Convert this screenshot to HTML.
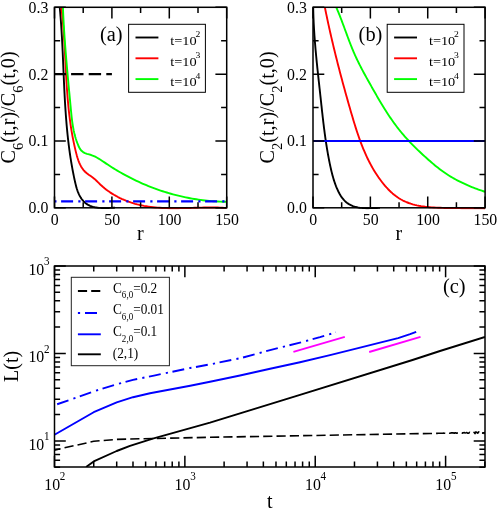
<!DOCTYPE html>
<html><head><meta charset="utf-8"><title>figure</title><style>html,body{margin:0;padding:0;background:#fff;}svg{display:block;}text{font-family:'Liberation Serif', serif;fill:#000;}</style></head><body>
<svg width="498" height="510" viewBox="0 0 498 510">
<rect x="0" y="0" width="498" height="510" fill="#fff"/>
<defs>
<clipPath id="ca"><rect x="54.5" y="7.3" width="172.2" height="202.1"/></clipPath>
<clipPath id="cb"><rect x="313" y="7.3" width="172.1" height="202.1"/></clipPath>
<clipPath id="cc"><rect x="54.5" y="266" width="430.5" height="201"/></clipPath>
<filter id="g" x="0" y="0" width="498" height="510" filterUnits="userSpaceOnUse" color-interpolation-filters="sRGB"><feColorMatrix type="saturate" values="0"/></filter>
</defs>
<g clip-path="url(#ca)">
<path d="M59.74,7.26 L59.89,8.92 L60.04,10.58 L60.19,12.25 L60.33,13.91 L60.46,15.57 L60.6,17.23 L60.73,18.89 L60.85,20.55 L60.97,22.21 L61.09,23.87 L61.2,25.53 L61.31,27.19 L61.42,28.85 L61.53,30.5 L61.63,32.16 L61.73,33.82 L61.82,35.48 L61.92,37.13 L62.01,38.79 L62.1,40.44 L62.18,42.1 L62.27,43.75 L62.35,45.41 L62.43,47.06 L62.51,48.72 L62.59,50.37 L62.67,52.03 L62.75,53.68 L62.82,55.33 L62.89,56.98 L62.97,58.64 L63.04,60.29 L63.11,61.94 L63.18,63.59 L63.25,65.24 L63.32,66.89 L63.39,68.55 L63.46,70.2 L63.53,71.85 L63.6,73.5 L63.67,75.15 L63.75,76.8 L63.82,78.45 L63.89,80.1 L63.96,81.75 L64.04,83.39 L64.11,85.04 L64.19,86.69 L64.27,88.34 L64.35,89.99 L64.43,91.64 L64.52,93.29 L64.6,94.93 L64.69,96.58 L64.78,98.23 L64.87,99.88 L64.96,101.53 L65.06,103.17 L65.16,104.82 L65.26,106.47 L65.37,108.12 L65.47,109.76 L65.59,111.41 L65.7,113.06 L65.82,114.7 L65.94,116.35 L66.06,118 L66.19,119.65 L66.33,121.29 L66.46,122.94 L66.6,124.59 L66.75,126.23 L66.9,127.88 L67.05,129.53 L67.21,131.17 L67.38,132.82 L67.54,134.47 L67.72,136.12 L67.9,137.76 L68.08,139.41 L68.27,141.06 L68.47,142.7 L68.67,144.35 L68.87,146 L69.08,147.65 L69.3,149.29 L69.53,150.94 L69.76,152.59 L70,154.24 L70.24,155.89 L70.49,157.53 L70.75,159.18 L71.01,160.83 L71.28,162.48 L71.56,164.13 L71.85,165.78 L72.14,167.43 L72.44,169.07 L72.75,170.72 L73.07,172.37 L73.39,174.02 L73.72,175.67 L74.06,177.32 L74.41,178.97 L74.77,180.62 L75.14,182.27 L75.52,183.91 L75.93,185.55 L76.37,187.16 L76.84,188.76 L77.35,190.33 L77.92,191.87 L78.53,193.38 L79.21,194.84 L79.95,196.26 L80.76,197.64 L81.66,198.96 L82.63,200.21 L83.68,201.39 L84.81,202.49 L86.02,203.5 L87.31,204.4 L88.69,205.2 L90.14,205.87 L91.66,206.44 L93.25,206.9 L94.89,207.27 L96.57,207.56 L98.29,207.77 L100.02,207.92 L101.77,208 L103.52,208.04 L105.26,208.03 L106.99,207.99 L108.69,207.93 L110.36,207.85 L111.97,207.76 L113.54,207.68 L115.03,207.61" fill="none" stroke="#000" stroke-width="1.9" stroke-linejoin="round"/>
<path d="M61.34,7.31 L61.61,9.59 L61.87,11.87 L62.12,14.15 L62.35,16.43 L62.57,18.72 L62.78,21.01 L62.98,23.29 L63.18,25.58 L63.36,27.88 L63.53,30.17 L63.7,32.46 L63.86,34.76 L64.01,37.05 L64.16,39.35 L64.3,41.64 L64.44,43.94 L64.57,46.24 L64.7,48.54 L64.83,50.84 L64.95,53.14 L65.07,55.44 L65.19,57.74 L65.31,60.04 L65.43,62.34 L65.55,64.64 L65.67,66.94 L65.79,69.25 L65.91,71.55 L66.03,73.85 L66.16,76.15 L66.29,78.45 L66.43,80.75 L66.57,83.05 L66.71,85.34 L66.86,87.64 L67.02,89.94 L67.19,92.23 L67.36,94.53 L67.54,96.82 L67.73,99.12 L67.93,101.41 L68.13,103.7 L68.35,105.99 L68.58,108.27 L68.82,110.56 L69.07,112.85 L69.34,115.13 L69.62,117.41 L69.91,119.69 L70.21,121.97 L70.54,124.24 L70.87,126.52 L71.22,128.79 L71.59,131.06 L71.98,133.33 L72.38,135.59 L72.81,137.86 L73.25,140.12 L73.71,142.37 L74.19,144.63 L74.69,146.88 L75.21,149.13 L75.75,151.38 L76.32,153.62 L76.91,155.86 L77.56,158.07 L78.28,160.24 L79.09,162.36 L80,164.42 L81.03,166.41 L82.22,168.3 L83.56,170.09 L85.08,171.76 L86.81,173.3 L88.72,174.71 L90.71,176.07 L92.69,177.45 L94.53,178.92 L96.23,180.47 L97.86,182.08 L99.46,183.69 L101.11,185.26 L102.81,186.77 L104.55,188.24 L106.35,189.65 L108.19,191.02 L110.08,192.33 L112.01,193.58 L113.97,194.79 L115.97,195.94 L118,197.03 L120.06,198.07 L122.15,199.06 L124.26,199.99 L126.4,200.87 L128.55,201.69 L130.72,202.45 L132.91,203.16 L135.11,203.81 L137.32,204.41 L139.54,204.95 L141.77,205.44 L144,205.89 L146.25,206.28 L148.51,206.64 L150.77,206.95 L153.04,207.22 L155.32,207.45 L157.61,207.65 L159.9,207.82 L162.19,207.95 L164.49,208.06 L166.8,208.14 L169.11,208.19 L171.42,208.22 L173.74,208.24 L176.06,208.23 L178.38,208.21 L180.7,208.17 L183.02,208.13 L185.34,208.07 L187.67,208.01 L189.99,207.94 L192.31,207.87 L194.63,207.8 L196.95,207.74 L199.27,207.67 L201.58,207.62 L203.89,207.57 L206.19,207.53 L208.49,207.5 L210.79,207.49 L213.08,207.5 L215.37,207.53 L217.64,207.57 L219.92,207.65 L222.18,207.74 L224.44,207.87 L226.68,208.03" fill="none" stroke="#f00" stroke-width="1.9" stroke-linejoin="round"/>
<path d="M62.92,7.3 L63.01,9.48 L63.1,11.66 L63.2,13.83 L63.3,16.01 L63.41,18.19 L63.53,20.36 L63.65,22.53 L63.77,24.71 L63.9,26.88 L64.03,29.05 L64.17,31.21 L64.31,33.38 L64.45,35.55 L64.6,37.71 L64.75,39.88 L64.91,42.04 L65.07,44.21 L65.23,46.37 L65.4,48.53 L65.57,50.7 L65.74,52.86 L65.92,55.02 L66.09,57.18 L66.27,59.34 L66.46,61.5 L66.64,63.66 L66.83,65.82 L67.02,67.98 L67.21,70.14 L67.4,72.3 L67.6,74.46 L67.79,76.62 L67.99,78.79 L68.19,80.95 L68.39,83.11 L68.59,85.27 L68.8,87.43 L69,89.59 L69.21,91.75 L69.41,93.92 L69.62,96.08 L69.82,98.25 L70.03,100.41 L70.23,102.58 L70.44,104.74 L70.65,106.91 L70.85,109.08 L71.06,111.25 L71.27,113.42 L71.5,115.58 L71.74,117.75 L72,119.91 L72.28,122.07 L72.59,124.22 L72.93,126.36 L73.31,128.5 L73.73,130.63 L74.2,132.76 L74.72,134.87 L75.29,136.97 L75.91,139.06 L76.61,141.14 L77.37,143.2 L78.2,145.25 L79.11,147.27 L80.19,149.16 L81.49,150.8 L83.09,152.11 L84.93,153.09 L86.97,153.81 L89.1,154.39 L91.21,155.03 L93.25,155.81 L95.22,156.71 L97.13,157.72 L99,158.81 L100.84,159.97 L102.65,161.17 L104.45,162.39 L106.25,163.61 L108.06,164.82 L109.89,166.01 L111.72,167.19 L113.56,168.35 L115.42,169.48 L117.28,170.61 L119.15,171.71 L121.04,172.8 L122.93,173.86 L124.84,174.91 L126.75,175.94 L128.67,176.95 L130.6,177.95 L132.54,178.92 L134.49,179.88 L136.45,180.82 L138.42,181.73 L140.39,182.63 L142.37,183.51 L144.36,184.37 L146.36,185.22 L148.37,186.04 L150.39,186.84 L152.41,187.62 L154.44,188.38 L156.48,189.13 L158.52,189.85 L160.57,190.55 L162.63,191.23 L164.69,191.89 L166.76,192.53 L168.84,193.16 L170.92,193.76 L173.01,194.33 L175.11,194.89 L177.21,195.43 L179.32,195.95 L181.43,196.44 L183.55,196.91 L185.67,197.37 L187.8,197.8 L189.93,198.21 L192.07,198.59 L194.21,198.96 L196.35,199.3 L198.5,199.62 L200.66,199.92 L202.82,200.2 L204.98,200.45 L207.14,200.69 L209.31,200.9 L211.48,201.08 L213.66,201.25 L215.84,201.39 L218.02,201.51 L220.2,201.6 L222.39,201.68 L224.58,201.72 L226.77,201.75" fill="none" stroke="#0f0" stroke-width="1.9" stroke-linejoin="round"/>
<path d="M53.5,74.13 H111.9" fill="none" stroke="#000" stroke-width="2.1" stroke-linejoin="round" stroke-dasharray="12.4 5.2"/>
<path d="M54.3,201.4 H226.7" fill="none" stroke="#00f" stroke-width="2.2" stroke-linejoin="round" stroke-dasharray="2.2 4.6 12 5.2"/>
</g>
<g clip-path="url(#cb)">
<path d="M313.19,7.31 L313.22,8.99 L313.25,10.68 L313.3,12.37 L313.34,14.06 L313.4,15.74 L313.46,17.43 L313.52,19.12 L313.6,20.81 L313.67,22.49 L313.76,24.18 L313.85,25.87 L313.94,27.56 L314.04,29.25 L314.14,30.93 L314.25,32.62 L314.36,34.31 L314.48,36 L314.6,37.68 L314.73,39.37 L314.86,41.06 L314.99,42.75 L315.13,44.43 L315.27,46.12 L315.41,47.81 L315.56,49.5 L315.71,51.18 L315.87,52.87 L316.03,54.56 L316.19,56.24 L316.35,57.93 L316.51,59.62 L316.68,61.3 L316.85,62.99 L317.02,64.67 L317.2,66.36 L317.37,68.05 L317.55,69.73 L317.73,71.42 L317.91,73.1 L318.09,74.78 L318.27,76.47 L318.45,78.15 L318.64,79.84 L318.82,81.52 L319.01,83.2 L319.19,84.89 L319.38,86.57 L319.56,88.25 L319.75,89.93 L319.93,91.62 L320.12,93.3 L320.3,94.98 L320.48,96.66 L320.67,98.34 L320.85,100.02 L321.03,101.7 L321.21,103.38 L321.39,105.06 L321.58,106.73 L321.76,108.41 L321.94,110.09 L322.13,111.77 L322.32,113.44 L322.51,115.12 L322.7,116.8 L322.89,118.47 L323.08,120.15 L323.28,121.82 L323.48,123.5 L323.69,125.17 L323.89,126.85 L324.1,128.52 L324.32,130.19 L324.54,131.87 L324.76,133.54 L324.99,135.21 L325.22,136.88 L325.45,138.55 L325.7,140.22 L325.94,141.89 L326.2,143.56 L326.46,145.23 L326.72,146.9 L326.99,148.57 L327.27,150.24 L327.56,151.91 L327.85,153.58 L328.15,155.24 L328.46,156.91 L328.77,158.58 L329.09,160.24 L329.42,161.91 L329.76,163.57 L330.11,165.24 L330.47,166.9 L330.84,168.56 L331.22,170.22 L331.62,171.88 L332.04,173.53 L332.47,175.18 L332.93,176.83 L333.4,178.47 L333.9,180.1 L334.43,181.73 L334.99,183.35 L335.57,184.96 L336.18,186.56 L336.83,188.15 L337.52,189.73 L338.24,191.29 L339.01,192.81 L339.82,194.3 L340.69,195.75 L341.61,197.14 L342.6,198.47 L343.64,199.72 L344.75,200.9 L345.94,202 L347.2,202.99 L348.53,203.9 L349.93,204.71 L351.39,205.43 L352.91,206.06 L354.48,206.6 L356.1,207.05 L357.76,207.42 L359.46,207.71 L361.19,207.92 L362.95,208.06 L364.72,208.15 L366.5,208.19 L368.27,208.19 L370.04,208.16 L371.8,208.11 L373.52,208.06 L375.22,207.99 L376.88,207.94 L378.49,207.9 L380.04,207.88" fill="none" stroke="#000" stroke-width="1.9" stroke-linejoin="round"/>
<path d="M324.85,7.23 L325.28,9.35 L325.71,11.46 L326.14,13.57 L326.58,15.68 L327.02,17.78 L327.47,19.89 L327.92,21.98 L328.37,24.08 L328.83,26.17 L329.29,28.26 L329.76,30.34 L330.23,32.43 L330.7,34.51 L331.18,36.59 L331.66,38.66 L332.14,40.74 L332.63,42.81 L333.12,44.88 L333.61,46.95 L334.11,49.01 L334.61,51.08 L335.12,53.14 L335.63,55.2 L336.14,57.26 L336.66,59.32 L337.18,61.38 L337.7,63.43 L338.22,65.49 L338.75,67.54 L339.29,69.6 L339.82,71.65 L340.36,73.7 L340.9,75.75 L341.45,77.8 L342,79.85 L342.55,81.9 L343.11,83.96 L343.66,86.01 L344.23,88.06 L344.79,90.11 L345.36,92.16 L345.93,94.21 L346.5,96.26 L347.08,98.32 L347.66,100.37 L348.24,102.42 L348.82,104.48 L349.41,106.53 L350,108.59 L350.6,110.65 L351.19,112.71 L351.79,114.77 L352.4,116.83 L353.01,118.89 L353.63,120.95 L354.25,123 L354.89,125.06 L355.53,127.11 L356.18,129.15 L356.85,131.2 L357.53,133.23 L358.22,135.26 L358.92,137.29 L359.64,139.31 L360.37,141.32 L361.12,143.32 L361.89,145.32 L362.68,147.3 L363.49,149.28 L364.31,151.24 L365.16,153.2 L366.03,155.14 L366.92,157.07 L367.84,158.99 L368.78,160.89 L369.74,162.78 L370.74,164.66 L371.76,166.52 L372.81,168.36 L373.88,170.19 L374.99,172 L376.13,173.8 L377.3,175.57 L378.5,177.33 L379.74,179.06 L381.01,180.78 L382.32,182.48 L383.66,184.15 L385.04,185.79 L386.46,187.41 L387.91,188.98 L389.41,190.51 L390.95,191.99 L392.53,193.41 L394.15,194.78 L395.82,196.08 L397.53,197.31 L399.28,198.46 L401.08,199.53 L402.93,200.52 L404.82,201.42 L406.74,202.25 L408.71,203.01 L410.7,203.7 L412.72,204.31 L414.77,204.86 L416.85,205.35 L418.94,205.78 L421.05,206.16 L423.17,206.48 L425.3,206.76 L427.44,206.99 L429.59,207.19 L431.75,207.36 L433.91,207.5 L436.06,207.62 L438.22,207.72 L440.37,207.81 L442.52,207.89 L444.66,207.95 L446.8,208.01 L448.94,208.05 L451.08,208.09 L453.21,208.12 L455.34,208.14 L457.47,208.16 L459.6,208.17 L461.72,208.19 L463.85,208.2 L465.97,208.21 L468.09,208.22 L470.21,208.23 L472.33,208.25 L474.46,208.27 L476.58,208.29 L478.7,208.33 L480.82,208.37 L482.94,208.41 L485.06,208.47" fill="none" stroke="#f00" stroke-width="1.9" stroke-linejoin="round"/>
<path d="M336.26,7.29 L336.97,8.92 L337.66,10.55 L338.34,12.18 L339.01,13.82 L339.66,15.46 L340.31,17.11 L340.95,18.76 L341.59,20.41 L342.21,22.06 L342.83,23.72 L343.45,25.38 L344.06,27.04 L344.67,28.71 L345.28,30.37 L345.89,32.03 L346.5,33.69 L347.12,35.35 L347.73,37.01 L348.35,38.67 L348.97,40.32 L349.6,41.98 L350.24,43.63 L350.88,45.27 L351.54,46.91 L352.2,48.55 L352.88,50.18 L353.56,51.81 L354.26,53.43 L354.98,55.05 L355.7,56.65 L356.45,58.26 L357.2,59.85 L357.97,61.44 L358.75,63.03 L359.54,64.61 L360.35,66.18 L361.16,67.76 L361.98,69.32 L362.81,70.89 L363.65,72.45 L364.49,74 L365.34,75.56 L366.19,77.11 L367.05,78.66 L367.92,80.2 L368.78,81.75 L369.65,83.3 L370.52,84.84 L371.39,86.38 L372.26,87.93 L373.13,89.47 L374.01,91.01 L374.89,92.55 L375.77,94.09 L376.65,95.62 L377.54,97.15 L378.43,98.68 L379.32,100.21 L380.23,101.73 L381.13,103.25 L382.05,104.76 L382.97,106.27 L383.89,107.77 L384.83,109.27 L385.77,110.76 L386.72,112.25 L387.68,113.73 L388.65,115.2 L389.63,116.67 L390.62,118.13 L391.62,119.58 L392.63,121.02 L393.65,122.46 L394.69,123.88 L395.74,125.3 L396.8,126.71 L397.88,128.11 L398.97,129.49 L400.07,130.87 L401.19,132.24 L402.33,133.59 L403.48,134.94 L404.64,136.27 L405.81,137.6 L407,138.92 L408.2,140.22 L409.41,141.52 L410.63,142.8 L411.86,144.08 L413.11,145.35 L414.36,146.61 L415.62,147.86 L416.89,149.1 L418.17,150.34 L419.45,151.56 L420.74,152.78 L422.04,153.99 L423.35,155.19 L424.66,156.39 L425.98,157.57 L427.3,158.75 L428.62,159.93 L429.95,161.09 L431.28,162.25 L432.62,163.4 L433.96,164.54 L435.32,165.66 L436.68,166.77 L438.06,167.86 L439.45,168.94 L440.86,169.99 L442.28,171.03 L443.71,172.05 L445.16,173.05 L446.63,174.03 L448.1,174.99 L449.6,175.93 L451.1,176.85 L452.62,177.75 L454.16,178.63 L455.71,179.48 L457.27,180.32 L458.85,181.14 L460.43,181.94 L462.03,182.72 L463.64,183.48 L465.26,184.22 L466.89,184.95 L468.52,185.65 L470.16,186.34 L471.81,187.01 L473.46,187.67 L475.12,188.3 L476.78,188.93 L478.44,189.53 L480.1,190.12 L481.77,190.7 L483.44,191.26 L485.1,191.8" fill="none" stroke="#0f0" stroke-width="1.9" stroke-linejoin="round"/>
<path d="M313,140.97 H485.1" fill="none" stroke="#00f" stroke-width="2.1" stroke-linejoin="round"/>
</g>
<g clip-path="url(#cc)">
<path d="M54.5,450.1 L93.7,441.3 L116.7,439.4 L130,439 L210,437.3 L430,433.46 L430.9,433.44 L431.8,433.43 L432.7,433.41 L433.6,433.4 L434.5,433.38 L435.4,433.37 L436.3,433.35 L437.2,433.33 L438.1,433.32 L439,433.3 L439.9,433.29 L440.8,433.27 L441.7,433.29 L442.6,433.18 L443.5,433.17 L444.4,433.24 L445.3,433.33 L446.2,433.2 L447.1,433.12 L448,433.37 L448.9,432.9 L449.8,433.32 L450.7,432.97 L451.6,432.84 L452.5,432.79 L453.4,432.9 L454.3,433.3 L455.2,432.74 L456.1,433.08 L457,433.13 L457.9,432.84 L458.8,433.01 L459.7,432.44 L460.6,432.4 L461.5,432.54 L462.4,433.13 L463.3,432.78 L464.2,432.6 L465.1,432.97 L466,432.76 L466.9,432.5 L467.8,433.27 L468.7,433.11 L469.6,432.33 L470.5,432.88 L471.4,432.78 L472.3,433.42 L473.2,433.15 L474.1,432.27 L475,433.65 L475.9,431.87 L476.8,432.47 L477.7,433.19 L478.6,431.84 L479.5,432.57 L480.4,431.5 L481.3,432.97 L482.2,433.19 L483.1,432.72 L484,433.47 L484.9,432.02" fill="none" stroke="#000" stroke-width="1.6" stroke-linejoin="round" stroke-dasharray="9.2 4.1" stroke-dashoffset="3"/>
<path d="M86.1,467 L93.7,461.4 L116.7,451 L130,445.8 L152.8,438.6 L210,422.7 L300,394.9 L412.5,360 L440,351 L485,336.9" fill="none" stroke="#000" stroke-width="1.9" stroke-linejoin="round"/>
<path d="M54.5,434.8 L93.7,412.2 L116.7,402.3 L133,397.2 L150,393.3 L190.2,385.8 L210,381.8 L240,375.5 L270.1,368.8 L300,362.3 L330,355.1 L360.1,347.7 L380,342.7 L398.1,338.1 L410.1,334.2 L416.2,331.8" fill="none" stroke="#00f" stroke-width="1.9" stroke-linejoin="round"/>
<path d="M54.5,405.2 L93.7,391.4 L116.7,384.3 L133,379.9 L154,375.6 L190.2,368 L210,364.4 L241.2,358 L270.1,350.1 L300,342.65 L320,337.2 L335.9,332.3" fill="none" stroke="#00f" stroke-width="1.9" stroke-linejoin="round" stroke-dasharray="2.2 4.6 12 5.2" stroke-dashoffset="4"/>
<path d="M293.4,351.9 L344.8,336.9" fill="none" stroke="#f0f" stroke-width="1.9" stroke-linejoin="round"/>
<path d="M369.2,352 L420.5,336.9" fill="none" stroke="#f0f" stroke-width="1.9" stroke-linejoin="round"/>
</g>
<path d="M54.5,207.8 v-11.3 M54.5,7.3 v11.3 M83.2,207.8 v-5.6 M83.2,7.3 v5.6 M111.9,207.8 v-11.3 M111.9,7.3 v11.3 M140.6,207.8 v-5.6 M140.6,7.3 v5.6 M169.3,207.8 v-11.3 M169.3,7.3 v11.3 M198,207.8 v-5.6 M198,7.3 v5.6 M226.7,207.8 v-11.3 M226.7,7.3 v11.3 M54.5,207.8 h11.3 M226.7,207.8 h-11.3 M54.5,174.38 h5.6 M226.7,174.38 h-5.6 M54.5,140.97 h11.3 M226.7,140.97 h-11.3 M54.5,107.55 h5.6 M226.7,107.55 h-5.6 M54.5,74.13 h11.3 M226.7,74.13 h-11.3 M54.5,40.72 h5.6 M226.7,40.72 h-5.6 M54.5,7.3 h11.3 M226.7,7.3 h-11.3" fill="none" stroke="#000" stroke-width="1.5"/>
<rect x="54.5" y="7.3" width="172.2" height="200.5" fill="none" stroke="#000" stroke-width="1.5"/>
<path d="M313,207.8 v-11.3 M313,7.3 v11.3 M341.68,207.8 v-5.6 M341.68,7.3 v5.6 M370.37,207.8 v-11.3 M370.37,7.3 v11.3 M399.05,207.8 v-5.6 M399.05,7.3 v5.6 M427.73,207.8 v-11.3 M427.73,7.3 v11.3 M456.42,207.8 v-5.6 M456.42,7.3 v5.6 M485.1,207.8 v-11.3 M485.1,7.3 v11.3 M313,207.8 h11.3 M485.1,207.8 h-11.3 M313,174.38 h5.6 M485.1,174.38 h-5.6 M313,140.97 h11.3 M485.1,140.97 h-11.3 M313,107.55 h5.6 M485.1,107.55 h-5.6 M313,74.13 h11.3 M485.1,74.13 h-11.3 M313,40.72 h5.6 M485.1,40.72 h-5.6 M313,7.3 h11.3 M485.1,7.3 h-11.3" fill="none" stroke="#000" stroke-width="1.5"/>
<rect x="313" y="7.3" width="172.1" height="200.5" fill="none" stroke="#000" stroke-width="1.5"/>
<path d="M54.5,467 v-11.3 M54.5,266 v11.3 M93.74,467 v-5.6 M93.74,266 v5.6 M116.7,467 v-5.6 M116.7,266 v5.6 M132.99,467 v-5.6 M132.99,266 v5.6 M145.62,467 v-5.6 M145.62,266 v5.6 M155.94,467 v-5.6 M155.94,266 v5.6 M164.67,467 v-5.6 M164.67,266 v5.6 M172.23,467 v-5.6 M172.23,266 v5.6 M178.9,467 v-5.6 M178.9,266 v5.6 M184.87,467 v-11.3 M184.87,266 v11.3 M224.11,467 v-5.6 M224.11,266 v5.6 M247.07,467 v-5.6 M247.07,266 v5.6 M263.36,467 v-5.6 M263.36,266 v5.6 M275.99,467 v-5.6 M275.99,266 v5.6 M286.31,467 v-5.6 M286.31,266 v5.6 M295.04,467 v-5.6 M295.04,266 v5.6 M302.6,467 v-5.6 M302.6,266 v5.6 M309.27,467 v-5.6 M309.27,266 v5.6 M315.23,467 v-11.3 M315.23,266 v11.3 M354.48,467 v-5.6 M354.48,266 v5.6 M377.43,467 v-5.6 M377.43,266 v5.6 M393.72,467 v-5.6 M393.72,266 v5.6 M406.36,467 v-5.6 M406.36,266 v5.6 M416.68,467 v-5.6 M416.68,266 v5.6 M425.41,467 v-5.6 M425.41,266 v5.6 M432.97,467 v-5.6 M432.97,266 v5.6 M439.63,467 v-5.6 M439.63,266 v5.6 M445.6,467 v-11.3 M445.6,266 v11.3 M484.84,467 v-5.6 M484.84,266 v5.6 M54.5,467.23 h5.6 M485,467.23 h-5.6 M54.5,460.3 h5.6 M485,460.3 h-5.6 M54.5,454.45 h5.6 M485,454.45 h-5.6 M54.5,449.37 h5.6 M485,449.37 h-5.6 M54.5,444.9 h5.6 M485,444.9 h-5.6 M54.5,440.9 h11.3 M485,440.9 h-11.3 M54.5,414.57 h5.6 M485,414.57 h-5.6 M54.5,399.18 h5.6 M485,399.18 h-5.6 M54.5,388.25 h5.6 M485,388.25 h-5.6 M54.5,379.78 h5.6 M485,379.78 h-5.6 M54.5,372.85 h5.6 M485,372.85 h-5.6 M54.5,367 h5.6 M485,367 h-5.6 M54.5,361.92 h5.6 M485,361.92 h-5.6 M54.5,357.45 h5.6 M485,357.45 h-5.6 M54.5,353.45 h11.3 M485,353.45 h-11.3 M54.5,327.12 h5.6 M485,327.12 h-5.6 M54.5,311.73 h5.6 M485,311.73 h-5.6 M54.5,300.8 h5.6 M485,300.8 h-5.6 M54.5,292.33 h5.6 M485,292.33 h-5.6 M54.5,285.4 h5.6 M485,285.4 h-5.6 M54.5,279.55 h5.6 M485,279.55 h-5.6 M54.5,274.47 h5.6 M485,274.47 h-5.6 M54.5,270 h5.6 M485,270 h-5.6 M54.5,266 h11.3 M485,266 h-11.3" fill="none" stroke="#000" stroke-width="1.5"/>
<rect x="54.5" y="266" width="430.5" height="201" fill="none" stroke="#000" stroke-width="1.5"/>
<rect x="128.6" y="24.3" width="76.8" height="68" fill="#fff" stroke="#000" stroke-width="1"/>
<path d="M135.5,37.5 h22.9" stroke="#000" stroke-width="1.9" fill="none"/>
<path d="M135.5,58.3 h22.9" stroke="#f00" stroke-width="1.9" fill="none"/>
<path d="M135.5,79.1 h22.9" stroke="#0f0" stroke-width="1.9" fill="none"/>
<rect x="387.2" y="24.3" width="76.8" height="68" fill="#fff" stroke="#000" stroke-width="1"/>
<path d="M394.1,37.5 h22.9" stroke="#000" stroke-width="1.9" fill="none"/>
<path d="M394.1,58.3 h22.9" stroke="#f00" stroke-width="1.9" fill="none"/>
<path d="M394.1,79.1 h22.9" stroke="#0f0" stroke-width="1.9" fill="none"/>
<rect x="71.3" y="277.3" width="98.1" height="88.4" fill="#fff" stroke="#222" stroke-width="1"/>
<path d="M77.9,291 h22.4" stroke="#000" stroke-width="1.9" stroke-dasharray="9.2 4.1" fill="none"/>
<path d="M77.9,312.9 h22.4" stroke="#00f" stroke-width="2.0" stroke-dasharray="2.2 4.9 12 5.2" fill="none"/>
<path d="M77.9,334.3 h22.9" stroke="#00f" stroke-width="1.9" fill="none"/>
<path d="M77.9,354.3 h22.9" stroke="#000" stroke-width="1.9" fill="none"/>
<g filter="url(#g)">
<text transform="translate(170.3,44.8) scale(1.07,1)" font-size="13.4" text-anchor="start">t=10<tspan font-size="9" dx="-1.2" dy="-7.9">2</tspan></text>
<text transform="translate(170.3,65.6) scale(1.07,1)" font-size="13.4" text-anchor="start">t=10<tspan font-size="9" dx="-1.2" dy="-7.9">3</tspan></text>
<text transform="translate(170.3,86.4) scale(1.07,1)" font-size="13.4" text-anchor="start">t=10<tspan font-size="9" dx="-1.2" dy="-7.9">4</tspan></text>
<text transform="translate(428.9,44.8) scale(1.07,1)" font-size="13.4" text-anchor="start">t=10<tspan font-size="9" dx="-1.2" dy="-7.9">2</tspan></text>
<text transform="translate(428.9,65.6) scale(1.07,1)" font-size="13.4" text-anchor="start">t=10<tspan font-size="9" dx="-1.2" dy="-7.9">3</tspan></text>
<text transform="translate(428.9,86.4) scale(1.07,1)" font-size="13.4" text-anchor="start">t=10<tspan font-size="9" dx="-1.2" dy="-7.9">4</tspan></text>
<text transform="translate(113,292.5) scale(0.95,1)" font-size="14" text-anchor="start">C<tspan font-size="9.5" dy="5.8">6,0</tspan><tspan dy="-5.8">=0.2</tspan></text>
<text transform="translate(113,314.4) scale(0.95,1)" font-size="14" text-anchor="start">C<tspan font-size="9.5" dy="5.8">6,0</tspan><tspan dy="-5.8">=0.01</tspan></text>
<text transform="translate(113,335.9) scale(0.95,1)" font-size="14" text-anchor="start">C<tspan font-size="9.5" dy="5.8">2,0</tspan><tspan dy="-5.8">=0.1</tspan></text>
<text transform="translate(112.8,358.1) scale(0.95,1)" font-size="14" text-anchor="start">(2,1)</text>
<text transform="translate(100,41.1) scale(1.02,1)" font-size="20" text-anchor="start">(a)</text>
<text transform="translate(358.6,41.1) scale(1.02,1)" font-size="20" text-anchor="start">(b)</text>
<text transform="translate(443,293.4) scale(1.02,1)" font-size="20" text-anchor="start">(c)</text>
<text transform="translate(48.3,213.3) scale(0.91,1)" font-size="17.4" text-anchor="end">0.0</text>
<text transform="translate(48.3,146.47) scale(0.91,1)" font-size="17.4" text-anchor="end">0.1</text>
<text transform="translate(48.3,79.63) scale(0.91,1)" font-size="17.4" text-anchor="end">0.2</text>
<text transform="translate(48.3,12.8) scale(0.91,1)" font-size="17.4" text-anchor="end">0.3</text>
<text transform="translate(54.8,225.3) scale(0.91,1)" font-size="17.4" text-anchor="middle">0</text>
<text transform="translate(112.2,225.3) scale(0.91,1)" font-size="17.4" text-anchor="middle">50</text>
<text transform="translate(169.6,225.3) scale(0.91,1)" font-size="17.4" text-anchor="middle">100</text>
<text transform="translate(227,225.3) scale(0.91,1)" font-size="17.4" text-anchor="middle">150</text>
<text transform="translate(140.4,240)" font-size="20" text-anchor="middle">r</text>
<text transform="translate(306.8,213.3) scale(0.91,1)" font-size="17.4" text-anchor="end">0.0</text>
<text transform="translate(306.8,146.47) scale(0.91,1)" font-size="17.4" text-anchor="end">0.1</text>
<text transform="translate(306.8,79.63) scale(0.91,1)" font-size="17.4" text-anchor="end">0.2</text>
<text transform="translate(306.8,12.8) scale(0.91,1)" font-size="17.4" text-anchor="end">0.3</text>
<text transform="translate(313.3,225.3) scale(0.91,1)" font-size="17.4" text-anchor="middle">0</text>
<text transform="translate(370.67,225.3) scale(0.91,1)" font-size="17.4" text-anchor="middle">50</text>
<text transform="translate(428.03,225.3) scale(0.91,1)" font-size="17.4" text-anchor="middle">100</text>
<text transform="translate(485.4,225.3) scale(0.91,1)" font-size="17.4" text-anchor="middle">150</text>
<text transform="translate(398.85,240)" font-size="20" text-anchor="middle">r</text>
<text transform="translate(14.9,107.4) rotate(-90)" font-size="20.2" text-anchor="middle">C<tspan font-size="14.6" dy="8.0">6</tspan><tspan dy="-8.0">(t,r)/C</tspan><tspan font-size="14.6" dy="8.0">6</tspan><tspan dy="-8.0">(t,0)</tspan></text>
<text transform="translate(273.5,107.4) rotate(-90)" font-size="20.2" text-anchor="middle">C<tspan font-size="14.6" dy="8.0">2</tspan><tspan dy="-8.0">(t,r)/C</tspan><tspan font-size="14.6" dy="8.0">2</tspan><tspan dy="-8.0">(t,0)</tspan></text>
<text transform="translate(44.24,490) scale(0.91,1)" font-size="17.4" text-anchor="start">10<tspan font-size="12.2" dx="-0.3" dy="-9.8">2</tspan></text>
<text transform="translate(174.61,490) scale(0.91,1)" font-size="17.4" text-anchor="start">10<tspan font-size="12.2" dx="-0.3" dy="-9.8">3</tspan></text>
<text transform="translate(304.98,490) scale(0.91,1)" font-size="17.4" text-anchor="start">10<tspan font-size="12.2" dx="-0.3" dy="-9.8">4</tspan></text>
<text transform="translate(435.34,490) scale(0.91,1)" font-size="17.4" text-anchor="start">10<tspan font-size="12.2" dx="-0.3" dy="-9.8">5</tspan></text>
<text transform="translate(28.39,449.9) scale(0.91,1)" font-size="17.4" text-anchor="start">10<tspan font-size="12.2" dx="-0.3" dy="-9.8">1</tspan></text>
<text transform="translate(28.39,362.45) scale(0.91,1)" font-size="17.4" text-anchor="start">10<tspan font-size="12.2" dx="-0.3" dy="-9.8">2</tspan></text>
<text transform="translate(28.39,275) scale(0.91,1)" font-size="17.4" text-anchor="start">10<tspan font-size="12.2" dx="-0.3" dy="-9.8">3</tspan></text>
<text transform="translate(18,366.4) rotate(-90)" font-size="20" text-anchor="middle">L(t)</text>
<text transform="translate(269.8,508)" font-size="20" text-anchor="middle">t</text>
</g>
</svg></body></html>
